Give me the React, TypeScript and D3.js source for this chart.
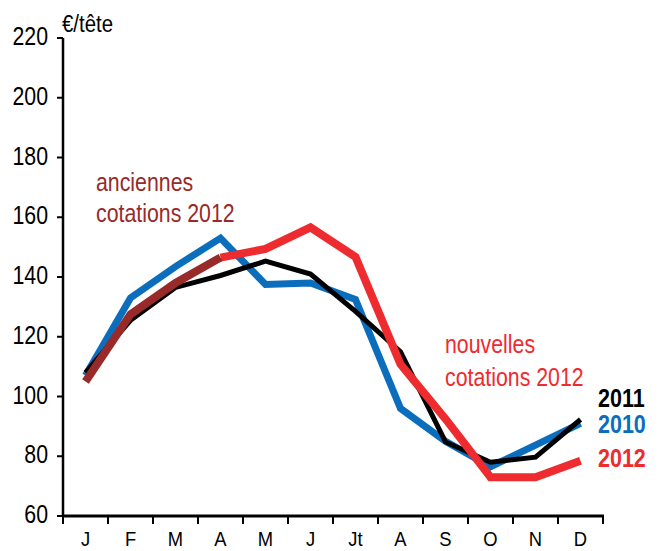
import React from "react";
import * as d3 from "d3";

const months = ["J", "F", "M", "A", "M", "J", "Jt", "A", "S", "O", "N", "D"];
const yTicks = [60, 80, 100, 120, 140, 160, 180, 200, 220];
const s2010 = [107, 133, 143.5, 153, 137.5, 138, 132.5, 96, 85, 76.5, 83.7, 91];
const s2011 = [108, 125.5, 136.5, 140.5, 145.3, 141, 128.5, 115, 84.8, 78, 79.7, 92.3];
const s2012old = [105, 127.5, 138, 146.5, null, null, null, null, null, null, null, null];
const s2012new = [null, null, null, 146.5, 149.4, 156.6, 146.7, 110.8, 92.5, 73, 73, 78.5];

const W = 658, H = 551;
const x0 = 63, x1 = 603, yTop = 38, yBot = 516;
const FONT = "'Liberation Sans', Arial, Helvetica, sans-serif";

export default function App() {
  const idx = months.map((_, i) => String(i));
  const x = d3.scaleBand<string>().domain(idx).range([x0, x1]);
  const y = d3.scaleLinear().domain([60, 220]).range([yBot, yTop]);
  const cx = (i: number) => (x(String(i)) as number) + x.bandwidth() / 2;

  const mk = (vals: (number | null)[]) =>
    d3
      .line<number | null>()
      .defined((d) => d !== null)
      .x((_, i) => cx(i))
      .y((d) => y(d as number))(vals) as string;

  const cond = (tx: number, ty: number, sx = 0.82) => `translate(${tx},${ty}) scale(${sx},1)`;

  return (
    <svg
      width={W}
      height={H}
      style={{ position: "absolute", left: 0, top: 0, background: "#fff" }}
      fontFamily={FONT}
    >
      {/* series */}
      <path d={mk(s2010)} fill="none" stroke="#0A6EBD" strokeWidth={7} />
      <path d={mk(s2011)} fill="none" stroke="#000" strokeWidth={5} />
      <path d={mk(s2012new)} fill="none" stroke="#EE2B2E" strokeWidth={8} />
      <path d={mk(s2012old)} fill="none" stroke="#982A2A" strokeWidth={8} />

      {/* y axis */}
      <line x1={x0} x2={x0} y1={yTop} y2={yBot} stroke="#000" strokeWidth={2.5} />
      {yTicks.map((t) => (
        <g key={t}>
          <line x1={x0 - 6} x2={x0} y1={y(t)} y2={y(t)} stroke="#000" strokeWidth={2} />
          <text transform={cond(48, y(t) + 7)} textAnchor="end" fontSize={26} fill="#000">
            {t}
          </text>
        </g>
      ))}
      {/* x axis */}
      <line x1={x0 - 1} x2={x1 + 1} y1={yBot} y2={yBot} stroke="#000" strokeWidth={3} />
      {d3.range(13).map((i) => {
        const xx = x0 + i * x.bandwidth();
        return <line key={i} x1={xx} x2={xx} y1={yBot} y2={yBot + 8} stroke="#000" strokeWidth={2} />;
      })}
      {months.map((m, i) => (
        <text key={i} transform={cond(cx(i), 546, 0.92)} textAnchor="middle" fontSize={20} fill="#000">
          {m}
        </text>
      ))}

      {/* unit */}
      <text transform={cond(62, 32, 0.85)} fontSize={24} fill="#000">€/tête</text>

      {/* annotations */}
      <text transform={cond(96, 191)} fontSize={26} fill="#982A2A">anciennes</text>
      <text transform={cond(96, 222)} fontSize={26} fill="#982A2A">cotations 2012</text>
      <text transform={cond(445, 353)} fontSize={26} fill="#EE2B2E">nouvelles</text>
      <text transform={cond(445, 386)} fontSize={26} fill="#EE2B2E">cotations 2012</text>

      {/* legend */}
      <text transform={cond(598, 407, 0.86)} fontSize={25} fontWeight="bold" fill="#000">2011</text>
      <text transform={cond(598, 433, 0.86)} fontSize={25} fontWeight="bold" fill="#0A6EBD">2010</text>
      <text transform={cond(598, 467, 0.86)} fontSize={25} fontWeight="bold" fill="#EE2B2E">2012</text>
    </svg>
  );
}
